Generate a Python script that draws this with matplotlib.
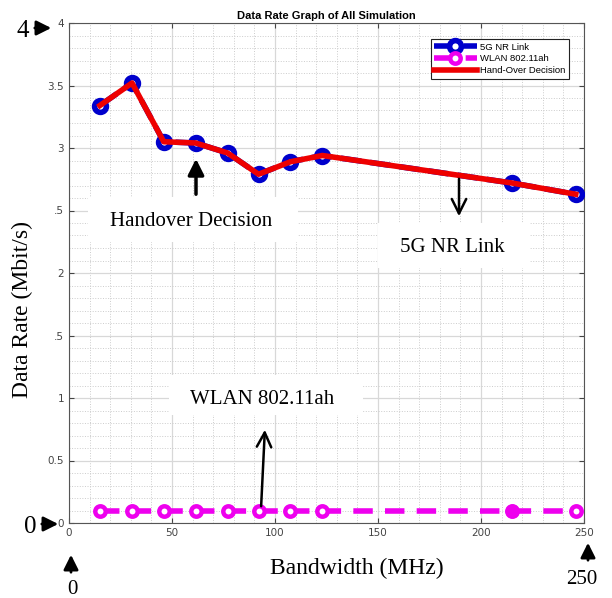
import numpy as np
import matplotlib
matplotlib.use('Agg')
import matplotlib.pyplot as plt
from matplotlib.patches import Rectangle, FancyArrowPatch
from matplotlib.ticker import MultipleLocator

# data
bandwidth = [15, 30.6, 46, 61.5, 77, 92, 107.5, 123, 215, 246]
rate_5g = [3.34, 3.52, 3.05, 3.04, 2.96, 2.79, 2.89, 2.94, 2.72, 2.63]
rate_wlan = [0.1, 0.1, 0.1, 0.1, 0.1, 0.1, 0.1, 0.1, 0.1, 0.1]
handover = rate_5g
yticks = [0, 0.5, 1, 1.5, 2, 2.5, 3, 3.5, 4]
ytick_labels = ['0', '0.5', '1', '.5', '2', '.5', '3', '3.5', '4']
xticks = [0, 50, 100, 150, 200, 250]

W, H = 612, 598
fig = plt.figure(figsize=(W/100, H/100), dpi=100)

def fx(px):
    return px / W
def fy(py):
    return 1 - py / H

ax = fig.add_axes([fx(69), fy(523), fx(584) - fx(69), fy(23) - fy(523)])

ax.plot(bandwidth, rate_5g, '--', color='#0000cc', lw=4, marker='o', ms=8.5,
        mfc='white', mew=4, label='5G NR Link', zorder=3)
ax.plot(bandwidth, rate_wlan, '--', color='#ee00ee', lw=4, marker='o', ms=7.5,
        mfc='white', mew=3.2, label='WLAN 802.11ah', dashes=(3.5, 2.2), zorder=3)
ax.plot(bandwidth[8], rate_wlan[8], 'o', color='#ee00ee', ms=9, zorder=4)
ax.plot(bandwidth, handover, '-', color='#ee0000', lw=4, label='Hand-Over Decision', zorder=4)

ax.set_xlim(0, 250)
ax.set_ylim(0, 4)
ax.set_xticks(xticks)
ax.set_yticks(yticks)
ax.set_yticklabels(ytick_labels)
ax.xaxis.set_minor_locator(MultipleLocator(10))
ax.yaxis.set_minor_locator(MultipleLocator(0.1))
ax.grid(True, which='major', color='#d8d8d8', lw=0.9)
ax.grid(True, which='minor', color='#cccccc', lw=0.7, ls=':')
ax.set_axisbelow(True)
ax.tick_params(which='both', direction='in', top=True, right=True, labelsize=7.5,
               labelcolor='#444444', color='#444444')
ax.tick_params(which='minor', length=0)
for s in ax.spines.values():
    s.set_color('#555555')
    s.set_linewidth(0.8)

ax.set_title('Data Rate Graph of All Simulation', fontsize=8, fontweight='bold',
             family='Liberation Sans', pad=3)

leg = ax.legend(loc='upper right', bbox_to_anchor=(0.98, 0.977),
                prop={'family': 'Liberation Sans', 'size': 6.8}, fancybox=False,
                edgecolor='#222222', framealpha=1, handlelength=4.5,
                borderpad=0.35, labelspacing=0.3, handletextpad=0.4)
leg.get_frame().set_linewidth(0.8)

serif = 'Liberation Serif'
fig.text(fx(22), fy(310), 'Data Rate (Mbit/s)', rotation=90, ha='center', va='center',
         fontsize=17, family=serif)
fig.text(fx(357), fy(568), 'Bandwidth (MHz)', ha='center', va='center',
         fontsize=17, family=serif)

# white label boxes
boxes = [((88, 197, 298, 242), 'Handover Decision', (191, 222)),
         ((378, 223, 530, 268), '5G NR Link', (452, 248)),
         ((169, 375, 363, 415), 'WLAN 802.11ah', (262, 400))]
for (x0, y0, x1, y1), txt, (tx, ty) in boxes:
    fig.patches.append(Rectangle((fx(x0), fy(y1)), fx(x1) - fx(x0), fy(y0) - fy(y1),
                                 transform=fig.transFigure, facecolor='white',
                                 edgecolor='none', zorder=5))
    fig.text(fx(tx), fy(ty), txt, ha='center', va='center', fontsize=15,
             family=serif, zorder=6)

def arrow(x0, y0, x1, y1, style, lw=2, ms=14):
    fig.add_artist(FancyArrowPatch(
        (fx(x0), fy(y0)), (fx(x1), fy(y1)), transform=fig.transFigure,
        arrowstyle=style, mutation_scale=ms, lw=lw, color='black', zorder=7))

# pointing arrows inside the plot
arrow(196, 197, 196, 156, '-|>', lw=2.5, ms=24)
arrow(459, 176, 459, 219, '->', lw=1.8, ms=26)
arrow(261, 509, 265, 427, '->', lw=1.8, ms=26)

# corner value markers
fig.text(fx(23), fy(31), '4', ha='center', va='center', fontsize=18, family=serif)
arrow(32, 28, 54, 28, '-|>', lw=2, ms=22)
fig.text(fx(30), fy(527), '0', ha='center', va='center', fontsize=18, family=serif)
arrow(39, 524, 61, 524, '-|>', lw=2, ms=22)
fig.text(fx(72), fy(589), '0', ha='center', va='center', fontsize=15, family=serif)
arrow(71, 575, 71, 552, '-|>', lw=2, ms=22)
fig.text(fx(582), fy(580), '250', ha='center', va='center', fontsize=15, family=serif)
arrow(588, 563, 588, 540, '-|>', lw=2, ms=22)

fig.savefig('out.png', dpi=100)
